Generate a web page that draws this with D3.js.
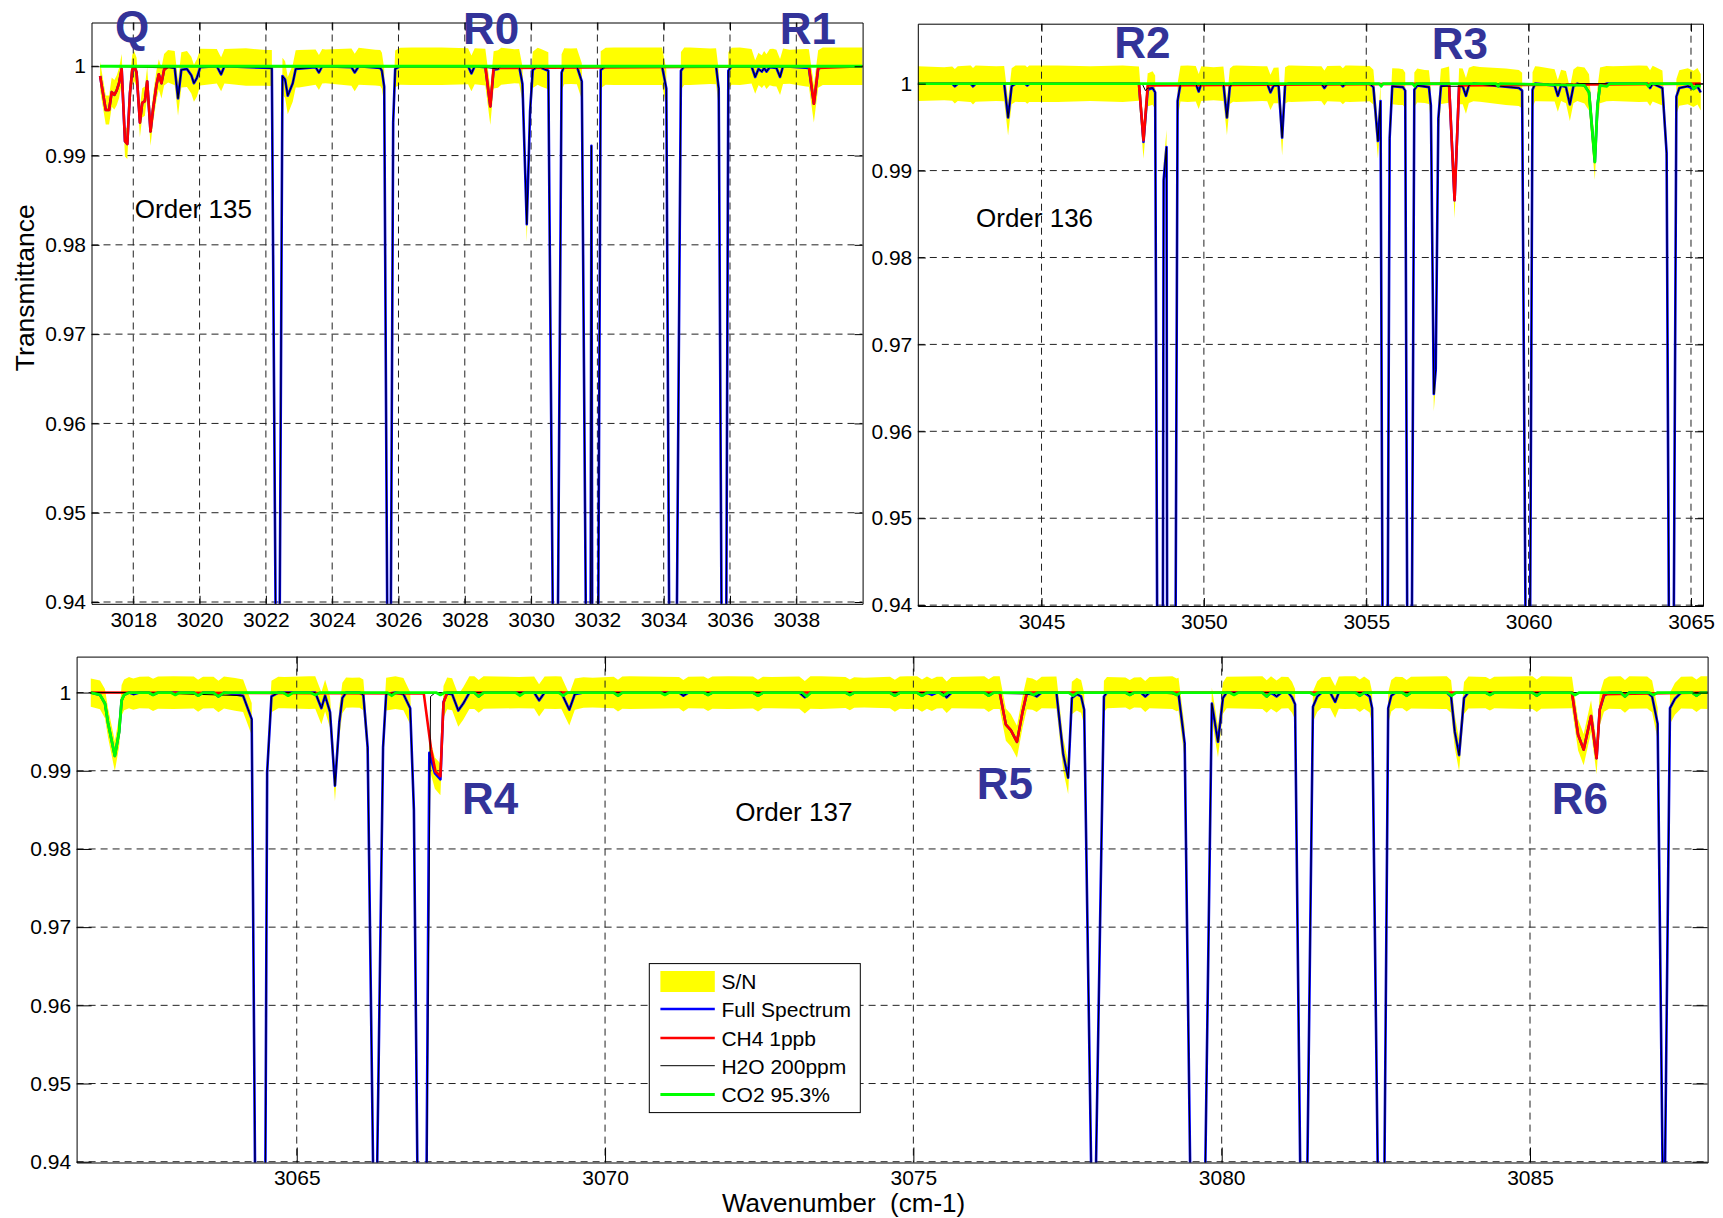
<!DOCTYPE html>
<html><head><meta charset="utf-8">
<script src="https://cdn.jsdelivr.net/npm/d3@7"></script>
<style>
body{margin:0;background:#fff;}
svg text{font-family:"Liberation Sans",Arial,Helvetica,sans-serif;}
</style></head><body>
<svg id="chart" width="1723" height="1218" xmlns="http://www.w3.org/2000/svg"></svg>
<script>
// ---------- tick values ----------
const yTicks = [0.94, 0.95, 0.96, 0.97, 0.98, 0.99, 1];
const yTickLabels = ["0.94", "0.95", "0.96", "0.97", "0.98", "0.99", "1"];
const order135Ticks = [3018, 3020, 3022, 3024, 3026, 3028, 3030, 3032, 3034, 3036, 3038];
const order136Ticks = [3045, 3050, 3055, 3060, 3065];
const order137Ticks = [3065, 3070, 3075, 3080, 3085];

// ---------- order 135 : [wavenumber, transmittance] ----------
const order135Full = [
[3017.00,0.9989],[3017.17,0.9951],[3017.27,0.9951],[3017.35,0.9971],[3017.43,0.9968],[3017.50,0.9973],[3017.57,0.9981],[3017.65,0.9997],[3017.75,0.9916],[3017.82,0.9913],[3017.90,0.9970],[3017.97,0.9996],[3018.03,1.0000],[3018.10,0.9993],[3018.20,0.9937],[3018.27,0.9959],[3018.35,0.9961],[3018.42,0.9983],[3018.52,0.9927],[3018.60,0.9953],[3018.70,0.9979],[3018.77,0.9991],[3018.85,0.9981],[3018.93,0.9996],[3019.05,1.0000],
[3019.25,0.9998],[3019.35,0.9964],[3019.45,0.9996],[3019.62,0.9997],[3019.75,0.9990],[3019.83,0.9981],[3019.92,0.9987],[3020.02,0.9999],[3020.52,1.0000],[3020.65,0.9991],[3020.75,1.0000],
[3022.18,0.9998],[3022.365,0.9000],[3022.50,0.9989],[3022.58,0.9985],[3022.66,0.9967],[3022.81,0.9981],[3022.90,0.9997],[3023.50,0.9999],[3023.60,0.9993],[3023.70,1.0000],[3024.58,0.9999],[3024.68,0.9993],[3024.80,1.0000],[3025.45,0.9998],[3025.50,0.9995],[3025.57,0.9977],[3025.72,0.9000],[3025.84,0.9937],[3025.90,0.9997],[3026.05,1.0000],
[3028.10,1.0000],[3028.20,0.9992],[3028.30,1.0000],[3028.62,0.9999],[3028.77,0.9955],[3028.87,0.9996],[3029.00,0.9997],[3029.10,1.0000],[3029.64,1.0000],[3029.74,0.9980],[3029.87,0.9823],[3029.97,0.9950],[3030.05,0.9996],[3030.20,1.0000],[3030.52,0.9995],[3030.74,0.9000],[3030.92,0.9993],[3031.00,1.0000],[3031.38,1.0000],[3031.53,0.9983],[3031.73,0.9000],[3031.78,0.9000],[3031.82,0.9911],[3031.86,0.9000],[3031.98,0.9000],[3032.10,0.9996],[3032.25,1.0000],
[3033.95,1.0000],[3034.08,0.9975],[3034.22,0.9000],[3034.32,0.9000],[3034.52,0.9995],[3034.62,1.0000],[3035.58,1.0000],[3035.66,0.9975],[3035.80,0.9000],[3035.85,0.9000],[3035.95,0.9995],[3036.05,1.0000],
[3036.65,1.0000],[3036.76,0.9988],[3036.86,0.9997],[3036.96,0.9994],[3037.03,0.9998],[3037.10,0.9994],[3037.20,0.9999],[3037.40,0.9998],[3037.51,0.9988],[3037.60,1.0000],[3038.38,0.9998],[3038.53,0.9958],[3038.66,0.9997],[3038.80,1.0000],[3040.00,1.0000]
];
const order135CH4 = [
[3017.00,0.9989],[3017.17,0.9951],[3017.27,0.9951],[3017.35,0.9971],[3017.43,0.9968],[3017.50,0.9973],[3017.57,0.9981],[3017.65,0.9997],[3017.75,0.9916],[3017.82,0.9913],[3017.90,0.9970],[3017.97,0.9996],[3018.03,1.0000],[3018.10,0.9993],[3018.20,0.9937],[3018.27,0.9959],[3018.35,0.9961],[3018.42,0.9983],[3018.52,0.9927],[3018.60,0.9953],[3018.70,0.9979],[3018.77,0.9991],[3018.85,0.9981],[3018.93,0.9996],[3019.05,1.0000],
[3028.62,1.0000],[3028.77,0.9955],[3028.87,0.9998],[3038.38,1.0000],[3038.53,0.9958],[3038.66,0.9998],[3040.00,1.0000]
];
const order135H2O = [
[3017.00,1.0000],[3019.25,0.9998],[3019.35,0.9964],[3019.45,0.9996],[3019.62,0.9997],[3019.75,0.9990],[3019.83,0.9981],[3019.92,0.9987],[3020.02,0.9999],[3020.52,1.0000],[3020.65,0.9991],[3020.75,1.0000],
[3022.18,0.9998],[3022.365,0.9000],[3022.50,0.9989],[3022.58,0.9985],[3022.66,0.9967],[3022.81,0.9981],[3022.90,0.9997],[3023.50,0.9999],[3023.60,0.9993],[3023.70,1.0000],[3024.58,0.9999],[3024.68,0.9993],[3024.80,1.0000],[3025.45,0.9998],[3025.50,0.9995],[3025.57,0.9977],[3025.72,0.9000],[3025.84,0.9937],[3025.90,0.9997],[3026.05,1.0000],
[3028.10,1.0000],[3028.20,0.9992],[3028.30,1.0000],[3029.00,0.9997],[3029.10,1.0000],[3029.64,1.0000],[3029.74,0.9980],[3029.87,0.9823],[3029.97,0.9950],[3030.05,0.9996],[3030.20,1.0000],[3030.52,0.9995],[3030.74,0.9000],[3030.92,0.9993],[3031.00,1.0000],[3031.38,1.0000],[3031.53,0.9983],[3031.73,0.9000],[3031.78,0.9000],[3031.82,0.9911],[3031.86,0.9000],[3031.98,0.9000],[3032.10,0.9996],[3032.25,1.0000],
[3033.95,1.0000],[3034.08,0.9975],[3034.22,0.9000],[3034.32,0.9000],[3034.52,0.9995],[3034.62,1.0000],[3035.58,1.0000],[3035.66,0.9975],[3035.80,0.9000],[3035.85,0.9000],[3035.95,0.9995],[3036.05,1.0000],
[3036.65,1.0000],[3036.76,0.9988],[3036.86,0.9997],[3036.96,0.9994],[3037.03,0.9998],[3037.10,0.9994],[3037.20,0.9999],[3037.40,0.9998],[3037.51,0.9988],[3037.60,1.0000],[3040.00,1.0000]
];
const order135CO2 = [[3017.00,1.0000],[3040.00,1.0000]];
// S/N band half-width (transmittance units)
const order135Noise = [
[3017.00,0.0016],[3017.8,0.0017],[3018.6,0.0016],[3019.2,0.0019],[3019.9,0.0021],[3020.6,0.0019],[3021.4,0.0021],[3022.0,0.0020],[3023.0,0.0021],[3023.8,0.0019],[3024.6,0.0021],[3025.3,0.0020],[3026.4,0.0021],[3027.3,0.0021],[3028.2,0.0020],[3029.0,0.0021],[3029.5,0.0019],[3030.3,0.0021],[3031.2,0.0020],[3032.5,0.0021],[3033.6,0.0021],[3034.8,0.0021],[3035.4,0.0020],[3036.3,0.0021],[3036.9,0.0018],[3037.3,0.0021],[3037.8,0.0019],[3038.3,0.0021],[3039.0,0.0021],[3040.00,0.0021]
];

// ---------- order 136 ----------
const order136Full = [
[3041.19,1.0000],[3042.25,1.0000],[3042.33,0.9997],[3042.42,1.0000],[3042.82,1.0000],[3042.89,0.9997],[3042.97,1.0000],[3043.85,1.0000],[3043.97,0.9961],[3044.08,0.9997],[3044.20,1.0000],[3044.50,1.0000],[3044.56,0.9998],[3044.62,1.0000],
[3048.00,1.0000],[3048.14,0.9933],[3048.27,0.9993],[3048.42,0.9995],[3048.50,0.9990],[3048.60,0.9000],[3048.72,0.9000],[3048.76,0.9889],[3048.85,0.9927],[3048.88,0.9000],[3049.09,0.9000],[3049.19,0.9980],[3049.28,1.0000],
[3049.75,1.0000],[3049.84,0.9991],[3049.92,1.0000],[3050.60,1.0000],[3050.71,0.9961],[3050.80,0.9997],[3050.90,1.0000],[3051.95,1.0000],[3052.05,0.9990],[3052.15,0.9998],[3052.30,0.9998],[3052.41,0.9938],[3052.50,0.9998],[3052.60,1.0000],[3053.62,1.0000],[3053.71,0.9995],[3053.80,1.0000],[3054.20,1.0000],[3054.28,0.9997],[3054.36,1.0000],
[3055.10,1.0000],[3055.22,0.9996],[3055.36,0.9934],[3055.44,0.9980],[3055.54,0.9000],[3055.62,0.9000],[3055.72,0.9937],[3055.80,0.9997],[3056.13,0.9996],[3056.20,0.9992],[3056.30,0.9000],[3056.36,0.9000],[3056.48,0.9993],[3056.57,0.9998],[3056.93,0.9996],[3056.99,0.9975],[3057.08,0.9643],[3057.14,0.9671],[3057.22,0.9960],[3057.30,0.9997],[3057.55,0.9999],[3057.72,0.9866],[3057.86,0.9997],[3057.97,0.9997],[3058.07,0.9986],[3058.16,0.9998],[3058.30,1.0000],
[3059.70,0.9995],[3059.80,0.9992],[3059.97,0.9000],[3060.00,0.9000],[3060.12,0.9993],[3060.20,1.0000],[3060.80,0.9998],[3060.90,0.9986],[3061.00,0.9998],[3061.15,0.9996],[3061.27,0.9976],[3061.38,0.9997],[3061.50,1.0000],[3061.72,0.9998],[3061.86,0.9990],[3062.04,0.9910],[3062.12,0.9975],[3062.20,0.9998],[3062.40,1.0000],[3063.65,1.0000],[3063.74,0.9995],[3063.82,1.0000],[3064.12,0.9995],[3064.25,0.9920],[3064.37,0.9000],[3064.42,0.9000],[3064.55,0.9985],[3064.64,0.9995],[3064.90,0.9997],[3065.08,0.9994],[3065.20,0.9997],[3065.30,0.9990]
];
const order136CH4 = [[3041.19,1.0000],[3048.00,1.0000],[3048.14,0.9935],[3048.27,0.9998],[3057.55,1.0000],[3057.72,0.9866],[3057.86,0.9998],[3065.30,1.0000]];
const order136H2O = [
[3041.19,1.0000],[3042.25,1.0000],[3042.33,0.9997],[3042.42,1.0000],[3042.82,1.0000],[3042.89,0.9997],[3042.97,1.0000],[3043.85,1.0000],[3043.97,0.9961],[3044.08,0.9997],[3044.20,1.0000],[3044.50,1.0000],[3044.56,0.9998],[3044.62,1.0000],
[3048.10,1.0000],[3048.20,0.9992],[3048.27,0.9995],[3048.42,0.9995],[3048.50,0.9990],[3048.60,0.9000],[3048.72,0.9000],[3048.76,0.9889],[3048.85,0.9927],[3048.88,0.9000],[3049.09,0.9000],[3049.19,0.9980],[3049.28,1.0000],
[3049.75,1.0000],[3049.84,0.9991],[3049.92,1.0000],[3050.60,1.0000],[3050.71,0.9961],[3050.80,0.9997],[3050.90,1.0000],[3051.95,1.0000],[3052.05,0.9990],[3052.15,0.9998],[3052.30,0.9998],[3052.41,0.9938],[3052.50,0.9998],[3052.60,1.0000],[3053.62,1.0000],[3053.71,0.9995],[3053.80,1.0000],[3054.20,1.0000],[3054.28,0.9997],[3054.36,1.0000],
[3055.10,1.0000],[3055.22,0.9996],[3055.36,0.9934],[3055.44,0.9980],[3055.54,0.9000],[3055.62,0.9000],[3055.72,0.9937],[3055.80,0.9997],[3056.13,0.9996],[3056.20,0.9992],[3056.30,0.9000],[3056.36,0.9000],[3056.48,0.9993],[3056.57,0.9998],[3056.93,0.9996],[3056.99,0.9975],[3057.08,0.9643],[3057.14,0.9671],[3057.22,0.9960],[3057.30,0.9997],[3057.97,0.9997],[3058.07,0.9986],[3058.16,0.9998],[3058.30,1.0000],
[3059.70,0.9995],[3059.80,0.9992],[3059.97,0.9000],[3060.00,0.9000],[3060.12,0.9993],[3060.20,1.0000],[3060.80,0.9998],[3060.90,0.9986],[3061.00,0.9998],[3061.15,0.9996],[3061.27,0.9976],[3061.38,0.9997],[3061.50,1.0000],[3063.65,1.0000],[3063.74,0.9995],[3063.82,1.0000],[3064.12,0.9995],[3064.25,0.9920],[3064.37,0.9000],[3064.42,0.9000],[3064.55,0.9985],[3064.64,0.9995],[3064.90,0.9997],[3065.20,0.9997],[3065.30,0.9990]
];
const order136CO2 = [
[3041.19,1.0000],[3055.40,1.0000],[3055.46,0.9997],[3055.52,1.0000],[3056.43,1.0000],[3056.49,0.9997],[3056.55,1.0000],[3059.00,1.0000],[3059.06,0.9997],[3059.12,1.0000],[3061.72,0.9998],[3061.86,0.9990],[3062.04,0.9910],[3062.12,0.9975],[3062.20,0.9998],[3062.41,0.9997],[3062.50,1.0000],[3063.62,1.0000],[3063.69,0.9997],[3063.76,1.0000],[3065.00,1.0000],[3065.08,0.9994],[3065.20,0.9998],[3065.30,0.9997]
];
const order136Noise = [
[3041.19,0.0020],[3042.0,0.0019],[3042.8,0.0021],[3043.6,0.0020],[3044.3,0.0021],[3045.5,0.0021],[3046.5,0.0020],[3047.5,0.0021],[3048.3,0.0019],[3049.5,0.0021],[3050.3,0.0019],[3051.0,0.0021],[3051.8,0.0020],[3052.7,0.0021],[3053.5,0.0020],[3054.5,0.0021],[3055.3,0.0020],[3056.0,0.0021],[3056.8,0.0019],[3057.6,0.0021],[3058.5,0.0020],[3059.3,0.0021],[3060.3,0.0020],[3061.0,0.0018],[3061.8,0.0021],[3062.6,0.0020],[3063.4,0.0021],[3064.2,0.0020],[3065.30,0.0021]
];

// ---------- order 137 ----------
const order137Full = [
[3061.66,1.0000],[3061.81,0.9997],[3061.89,0.9986],[3061.94,0.9961],[3062.05,0.9919],[3062.12,0.9950],[3062.16,0.9990],[3062.20,0.9997],[3062.28,1.0000],[3062.35,0.9998],[3062.45,1.0000],[3062.60,1.0000],[3062.67,0.9997],[3062.75,1.0000],[3063.33,1.0000],[3063.40,0.9996],[3063.48,1.0000],[3063.65,1.0000],[3063.73,0.9995],[3063.82,1.0000],
[3064.13,0.9996],[3064.27,0.9966],[3064.36,0.9000],[3064.47,0.9000],[3064.52,0.9898],[3064.59,0.9995],[3064.70,1.0000],[3065.30,1.0000],[3065.40,0.9980],[3065.46,0.9996],[3065.54,0.9975],[3065.62,0.9881],[3065.69,0.9962],[3065.74,0.9993],[3065.80,1.0000],[3066.02,1.0000],[3066.08,0.9997],[3066.15,0.9930],[3066.27,0.9200],[3066.40,0.9930],[3066.45,0.9998],[3066.60,1.0000],[3066.73,0.9998],[3066.84,0.9980],[3066.90,0.9850],[3066.98,0.9200],[3067.09,0.9200],[3067.15,0.9923],[3067.24,0.9897],[3067.33,0.9889],[3067.38,0.9988],[3067.44,0.9999],[3067.52,0.9998],[3067.62,0.9977],[3067.70,0.9986],[3067.80,1.0000],[3067.88,1.0000],[3067.95,0.9995],[3068.03,1.0000],
[3068.85,1.0000],[3068.93,0.9990],[3069.02,1.0000],[3069.29,1.0000],[3069.42,0.9978],[3069.51,0.9998],[3069.65,1.0000],[3070.14,1.0000],[3070.21,0.9996],[3070.28,1.0000],[3071.20,1.0000],[3071.27,0.9996],[3071.35,1.0000],[3071.60,1.0000],[3071.67,0.9997],[3071.74,1.0000],[3072.40,1.0000],[3072.48,0.9996],[3072.56,1.0000],[3073.15,1.0000],[3073.24,0.9994],[3073.33,1.0000],[3073.90,1.0000],[3073.97,0.9997],[3074.04,1.0000],[3074.62,1.0000],[3074.70,0.9996],[3074.78,1.0000],
[3075.06,1.0000],[3075.14,0.9996],[3075.22,1.0000],[3075.30,0.9997],[3075.38,1.0000],[3075.47,1.0000],[3075.54,0.9994],[3075.62,1.0000],[3076.15,1.0000],[3076.22,0.9996],[3076.30,1.0000],
[3076.40,1.0000],[3076.50,0.9959],[3076.58,0.9952],[3076.68,0.9937],[3076.77,0.9975],[3076.84,0.9999],[3076.93,0.9998],[3077.00,0.9995],[3077.08,1.0000],[3077.32,1.0000],[3077.43,0.9921],[3077.51,0.9891],[3077.57,0.9993],[3077.65,0.9998],[3077.72,0.9995],[3077.77,0.9978],[3077.92,0.9200],[3078.09,0.9995],[3078.14,1.0000],[3078.44,1.0000],[3078.51,0.9997],[3078.58,1.0000],[3078.69,1.0000],[3078.76,0.9995],[3078.83,1.0000],[3079.20,1.0000],[3079.27,0.9997],[3079.30,0.9998],[3079.40,0.9935],[3079.52,0.9200],[3079.70,0.9200],[3079.84,0.9986],[3079.94,0.9937],[3080.02,0.9993],[3080.08,1.0000],[3080.66,1.0000],[3080.73,0.9995],[3080.80,1.0000],[3080.89,0.9995],[3080.97,1.0000],[3081.08,1.0000],[3081.14,0.9994],[3081.19,0.9985],[3081.30,0.9200],[3081.36,0.9200],[3081.48,0.9982],[3081.55,0.9995],[3081.62,1.0000],[3081.76,1.0000],[3081.84,0.9988],[3081.90,1.0000],[3082.17,1.0000],[3082.24,0.9996],[3082.31,1.0000],[3082.40,0.9995],[3082.44,0.9980],[3082.56,0.9200],[3082.62,0.9200],[3082.70,0.9980],[3082.75,0.9996],[3082.82,1.0000],[3082.93,1.0000],[3083.00,0.9996],[3083.07,1.0000],[3083.65,1.0000],[3083.72,0.9995],[3083.78,0.9950],[3083.85,0.9920],[3083.93,0.9993],[3084.00,1.0000],[3084.28,1.0000],[3084.35,0.9997],[3084.42,1.0000],[3085.04,1.0000],[3085.11,0.9996],[3085.18,1.0000],
[3085.68,1.0000],[3085.78,0.9946],[3085.87,0.9927],[3085.99,0.9970],[3086.08,0.9916],[3086.13,0.9978],[3086.20,0.9996],[3086.28,1.0000],[3086.47,1.0000],[3086.54,0.9995],[3086.61,1.0000],[3086.90,1.0000],[3086.98,0.9995],[3087.07,0.9960],[3087.17,0.9250],[3087.27,0.9980],[3087.35,0.9992],[3087.45,1.0000],[3087.63,1.0000],[3087.70,0.9996],[3087.77,1.0000],[3087.88,1.0000]
];
const order137CH4 = [
[3061.66,1.0000],[3067.06,0.9999],[3067.18,0.9927],[3067.25,0.9899],[3067.33,0.9893],[3067.38,0.9987],[3067.44,1.0000],[3076.40,1.0000],[3076.50,0.9959],[3076.58,0.9952],[3076.68,0.9937],[3076.77,0.9975],[3076.84,1.0000],[3085.68,1.0000],[3085.78,0.9946],[3085.87,0.9927],[3085.99,0.9970],[3086.08,0.9916],[3086.13,0.9978],[3086.20,0.9998],[3087.88,1.0000]
];
const order137H2O = [
[3061.66,1.0000],[3062.28,1.0000],[3062.35,0.9998],[3062.45,1.0000],
[3064.13,0.9996],[3064.27,0.9966],[3064.36,0.9000],[3064.47,0.9000],[3064.52,0.9898],[3064.59,0.9995],[3064.70,1.0000],[3065.30,1.0000],[3065.40,0.9980],[3065.46,0.9996],[3065.54,0.9975],[3065.62,0.9881],[3065.69,0.9962],[3065.74,0.9993],[3065.80,1.0000],[3066.02,1.0000],[3066.08,0.9997],[3066.15,0.9930],[3066.27,0.9200],[3066.40,0.9930],[3066.45,0.9998],[3066.60,1.0000],[3066.73,0.9998],[3066.84,0.9980],[3066.90,0.9850],[3066.98,0.9200],[3067.09,0.9200],[3067.17,0.9995],[3067.25,1.0000],[3067.52,0.9998],[3067.62,0.9977],[3067.70,0.9986],[3067.80,1.0000],
[3068.85,1.0000],[3068.93,0.9990],[3069.02,1.0000],[3069.29,1.0000],[3069.42,0.9978],[3069.51,0.9998],[3069.65,1.0000],[3071.20,1.0000],[3071.27,0.9996],[3071.35,1.0000],[3073.15,1.0000],[3073.24,0.9994],[3073.33,1.0000],[3075.47,1.0000],[3075.54,0.9994],[3075.62,1.0000],
[3076.93,0.9998],[3077.00,0.9995],[3077.08,1.0000],[3077.32,1.0000],[3077.43,0.9921],[3077.51,0.9891],[3077.57,0.9993],[3077.65,0.9998],[3077.72,0.9995],[3077.77,0.9978],[3077.92,0.9200],[3078.09,0.9995],[3078.14,1.0000],[3078.69,1.0000],[3078.76,0.9995],[3078.83,1.0000],[3079.30,0.9998],[3079.40,0.9935],[3079.52,0.9200],[3079.70,0.9200],[3079.84,0.9986],[3079.94,0.9937],[3080.02,0.9993],[3080.08,1.0000],[3080.82,1.0000],[3080.89,0.9995],[3080.97,1.0000],[3081.08,1.0000],[3081.14,0.9994],[3081.19,0.9985],[3081.30,0.9200],[3081.36,0.9200],[3081.48,0.9982],[3081.55,0.9995],[3081.62,1.0000],[3081.76,1.0000],[3081.84,0.9988],[3081.90,1.0000],[3082.33,1.0000],[3082.40,0.9995],[3082.44,0.9980],[3082.56,0.9200],[3082.62,0.9200],[3082.70,0.9980],[3082.75,0.9996],[3082.82,1.0000],[3083.65,1.0000],[3083.72,0.9995],[3083.78,0.9950],[3083.85,0.9920],[3083.93,0.9993],[3084.00,1.0000],[3086.90,1.0000],[3086.98,0.9995],[3087.07,0.9960],[3087.17,0.9250],[3087.27,0.9980],[3087.35,0.9992],[3087.45,1.0000],[3087.88,1.0000]
];
const order137CO2 = [
[3061.66,1.0000],[3061.81,0.9997],[3061.89,0.9986],[3061.94,0.9961],[3062.05,0.9919],[3062.12,0.9950],[3062.16,0.9990],[3062.20,0.9997],[3062.28,1.0000],[3062.60,1.0000],[3062.67,0.9997],[3062.75,1.0000],[3062.96,1.0000],[3063.03,0.9997],[3063.10,1.0000],[3063.33,1.0000],[3063.40,0.9996],[3063.48,1.0000],[3063.65,1.0000],[3063.73,0.9995],[3063.82,1.0000],[3064.78,1.0000],[3064.86,0.9996],[3064.94,1.0000],[3065.22,1.0000],[3065.30,0.9997],[3065.38,1.0000],[3066.47,1.0000],[3066.54,0.9996],[3066.61,1.0000],[3067.26,1.0000],[3067.33,0.9997],[3067.40,1.0000],[3067.88,1.0000],[3067.95,0.9995],[3068.03,1.0000],[3068.55,1.0000],[3068.62,0.9996],[3068.69,1.0000],[3069.25,1.0000],[3069.32,0.9996],[3069.39,1.0000],[3070.14,1.0000],[3070.21,0.9996],[3070.28,1.0000],[3070.90,1.0000],[3070.97,0.9997],[3071.04,1.0000],[3071.60,1.0000],[3071.67,0.9997],[3071.74,1.0000],[3072.40,1.0000],[3072.48,0.9996],[3072.56,1.0000],[3073.20,1.0000],[3073.27,0.9995],[3073.34,1.0000],[3073.90,1.0000],[3073.97,0.9997],[3074.04,1.0000],[3074.62,1.0000],[3074.70,0.9996],[3074.78,1.0000],[3075.06,1.0000],[3075.14,0.9996],[3075.22,1.0000],[3075.42,1.0000],[3075.49,0.9996],[3075.56,1.0000],[3076.15,1.0000],[3076.22,0.9996],[3076.30,1.0000],[3076.88,1.0000],[3076.95,0.9997],[3077.02,1.0000],[3077.52,1.0000],[3077.59,0.9996],[3077.66,1.0000],[3078.44,1.0000],[3078.51,0.9997],[3078.58,1.0000],[3079.20,1.0000],[3079.27,0.9997],[3079.34,1.0000],[3080.13,1.0000],[3080.20,0.9997],[3080.27,1.0000],[3080.66,1.0000],[3080.73,0.9995],[3080.80,1.0000],[3081.43,1.0000],[3081.50,0.9997],[3081.57,1.0000],[3082.17,1.0000],[3082.24,0.9996],[3082.31,1.0000],[3082.93,1.0000],[3083.00,0.9996],[3083.07,1.0000],[3083.66,1.0000],[3083.73,0.9996],[3083.80,1.0000],[3084.28,1.0000],[3084.35,0.9997],[3084.42,1.0000],[3085.04,1.0000],[3085.11,0.9996],[3085.18,1.0000],[3085.66,1.0000],[3085.73,0.9997],[3085.80,1.0000],[3086.47,1.0000],[3086.54,0.9995],[3086.61,1.0000],[3086.93,1.0000],[3087.00,0.9997],[3087.07,1.0000],[3087.63,1.0000],[3087.70,0.9996],[3087.77,1.0000],[3087.88,1.0000]
];
const order137Noise = [
[3061.66,0.0018],[3062.3,0.0020],[3063.0,0.0021],[3063.7,0.0020],[3064.0,0.0021],[3064.8,0.0020],[3065.2,0.0021],[3065.9,0.0019],[3066.5,0.0021],[3067.2,0.0020],[3067.9,0.0021],[3068.6,0.0020],[3069.2,0.0021],[3069.8,0.0019],[3070.4,0.0021],[3071.2,0.0020],[3072.0,0.0021],[3072.7,0.0020],[3073.5,0.0021],[3074.2,0.0019],[3074.9,0.0021],[3075.6,0.0020],[3076.3,0.0021],[3077.0,0.0020],[3077.7,0.0021],[3078.5,0.0019],[3079.2,0.0021],[3080.0,0.0020],[3080.7,0.0021],[3081.4,0.0019],[3082.0,0.0021],[3082.9,0.0020],[3083.6,0.0021],[3084.3,0.0020],[3085.0,0.0021],[3085.8,0.0020],[3086.5,0.0021],[3087.2,0.0020],[3087.88,0.0021]
];

// ---------- legend entries ----------
const legendNames = ["S/N", "Full Spectrum", "CH4 1ppb", "H2O 200ppm", "CO2 95.3%"];

// ---------- layout ----------
const panels = [
  {x0: 91.5, x1: 862.6, y0: 22.5, y1: 603.8, xd: [3016.74, 3040.0], yd: [0.9398, 1.0049], tickLen: 8,
   xTicks: order135Ticks, full: order135Full, ch4: order135CH4, h2o: order135H2O, co2: order135CO2, noise: order135Noise},
  {x0: 917.8, x1: 1703, y0: 23.7, y1: 606, xd: [3041.19, 3065.37], yd: [0.9399, 1.0069], tickLen: 8,
   xTicks: order136Ticks, full: order136Full, ch4: order136CH4, h2o: order136H2O, co2: order136CO2, noise: order136Noise},
  {x0: 76.6, x1: 1707.6, y0: 656.6, y1: 1162.5, xd: [3061.43, 3087.88], yd: [0.9399, 1.0046], tickLen: 15,
   xTicks: order137Ticks, full: order137Full, ch4: order137CH4, h2o: order137H2O, co2: order137CO2, noise: order137Noise}
];
const colors = {sn: "#ffff00", full: "#0000ff", ch4: "#ff0000", h2o: "#000000", co2: "#00ff00"};
const branchColor = "#333399";

function interp(pts, v) {
  if (v <= pts[0][0]) return pts[0][1];
  if (v >= pts[pts.length - 1][0]) return pts[pts.length - 1][1];
  const i = d3.bisector(d => d[0]).right(pts, v);
  const a = pts[i - 1], b = pts[i];
  const t = (v - a[0]) / (b[0] - a[0]);
  return a[1] + t * (b[1] - a[1]);
}

const svg = d3.select("#chart");
svg.append("rect").attr("width", 1723).attr("height", 1218).attr("fill", "#fff");
const defs = svg.append("defs");

panels.forEach((p, i) => {
  const x = d3.scaleLinear().domain(p.xd).range([p.x0, p.x1]);
  const y = d3.scaleLinear().domain(p.yd).range([p.y1, p.y0]);
  const clipId = "plotclip" + i;
  defs.append("clipPath").attr("id", clipId).append("rect")
    .attr("x", p.x0).attr("y", p.y0).attr("width", p.x1 - p.x0).attr("height", p.y1 - p.y0);

  const g = svg.append("g");
  const plot = g.append("g").attr("clip-path", `url(#${clipId})`);

  // S/N envelope around the full spectrum
  const lo = p.full[0][0], hi = p.full[p.full.length - 1][0];
  const xs = Array.from(new Set([...p.full.map(d => d[0]), ...p.noise.map(d => d[0])]))
    .filter(v => v >= lo && v <= hi).sort((a, b) => a - b);
  const band = xs.map(v => { const c = interp(p.full, v), s = interp(p.noise, v); return {v, top: c + s, bot: c - s}; });
  plot.append("path").datum(band)
    .attr("d", d3.area().x(d => x(d.v)).y0(d => y(d.bot)).y1(d => y(d.top)))
    .attr("fill", colors.sn);

  // dashed grid
  const grid = plot.append("g").attr("stroke", "#222").attr("stroke-width", 1).attr("stroke-dasharray", "7,5");
  grid.selectAll("line.gx").data(p.xTicks).join("line")
    .attr("x1", d => x(d)).attr("x2", d => x(d)).attr("y1", p.y0).attr("y2", p.y1);
  grid.selectAll("line.gy").data(yTicks).join("line")
    .attr("y1", d => y(d)).attr("y2", d => y(d)).attr("x1", p.x0).attr("x2", p.x1);

  // spectra
  const line = d3.line().x(d => x(d[0])).y(d => y(d[1]));
  [[p.full, colors.full, 2.6], [p.ch4, colors.ch4, 2.6], [p.h2o, colors.h2o, 1], [p.co2, colors.co2, 2.8]]
    .forEach(([data, col, w]) => {
      plot.append("path").datum(data).attr("d", line).attr("fill", "none")
        .attr("stroke", col).attr("stroke-width", w).attr("stroke-linejoin", "round");
    });

  // axes (inward ticks on all four sides)
  const fmtY = d => yTickLabels[yTicks.indexOf(d)];
  const ax = (gen, tr) => g.append("g").attr("transform", tr).call(gen)
    .call(s => s.selectAll("path.domain").attr("stroke", "#000").attr("stroke-width", 1))
    .call(s => s.selectAll(".tick line").attr("stroke", "#000").attr("stroke-width", 1))
    .call(s => s.selectAll("text").attr("font-size", 21).attr("fill", "#000")
      .attr("font-family", "'Liberation Sans', Arial, sans-serif"));
  ax(d3.axisBottom(x).tickValues(p.xTicks).tickFormat(d3.format("d")).tickSize(-p.tickLen).tickSizeOuter(0).tickPadding(8),
     `translate(0,${p.y1})`);
  ax(d3.axisTop(x).tickValues(p.xTicks).tickFormat("").tickSize(-p.tickLen).tickSizeOuter(0),
     `translate(0,${p.y0})`);
  ax(d3.axisLeft(y).tickValues(yTicks).tickFormat(fmtY).tickSize(-p.tickLen).tickSizeOuter(0).tickPadding(5.5),
     `translate(${p.x0},0)`);
  ax(d3.axisRight(y).tickValues(yTicks).tickFormat("").tickSize(-p.tickLen).tickSizeOuter(0),
     `translate(${p.x1},0)`);
});

// branch labels
const branches = [
  ["Q", 114.9, 41.5], ["R0", 463, 43.5], ["R1", 779.7, 43.5],
  ["R2", 1114.3, 58.3], ["R3", 1431.7, 59.3],
  ["R4", 462, 814.3], ["R5", 976.7, 799.2], ["R6", 1551.8, 814]
];
svg.append("g").selectAll("text").data(branches).join("text")
  .attr("x", d => d[1]).attr("y", d => d[2]).text(d => d[0])
  .attr("font-size", 44).attr("font-weight", "bold").attr("fill", branchColor);

// order annotations
const orders = [["Order 135", 134.8, 217.5], ["Order 136", 976, 227.3], ["Order 137", 735.3, 820.6]];
svg.append("g").selectAll("text").data(orders).join("text")
  .attr("x", d => d[1]).attr("y", d => d[2]).text(d => d[0])
  .attr("font-size", 26).attr("fill", "#000");

// axis titles
svg.append("text").attr("transform", "translate(34.4,287.7) rotate(-90)")
  .attr("text-anchor", "middle").attr("font-size", 26.5).text("Transmittance");
svg.append("text").attr("x", 722).attr("y", 1212).attr("font-size", 26)
  .attr("xml:space", "preserve").style("white-space", "pre").text("Wavenumber  (cm-1)");

// legend
const lg = svg.append("g");
lg.append("rect").attr("x", 649.3).attr("y", 963.6).attr("width", 211).attr("height", 149)
  .attr("fill", "#fff").attr("stroke", "#000").attr("stroke-width", 1);
lg.append("rect").attr("x", 660.4).attr("y", 971).attr("width", 54.4).attr("height", 21).attr("fill", colors.sn);
const legendLines = [[colors.full, 2.6, 1009], [colors.ch4, 2.6, 1038], [colors.h2o, 1, 1065.7], [colors.co2, 2.8, 1094.5]];
legendLines.forEach(([c, w, yy]) => {
  lg.append("line").attr("x1", 660.4).attr("x2", 714.8).attr("y1", yy).attr("y2", yy)
    .attr("stroke", c).attr("stroke-width", w);
});
const legendBaselines = [989.4, 1017, 1045.5, 1074, 1102.4];
lg.selectAll("text").data(legendNames).join("text")
  .attr("x", 721.4).attr("y", (d, i) => legendBaselines[i]).text(d => d)
  .attr("font-size", 21).attr("fill", "#000");
</script>
</body></html>
